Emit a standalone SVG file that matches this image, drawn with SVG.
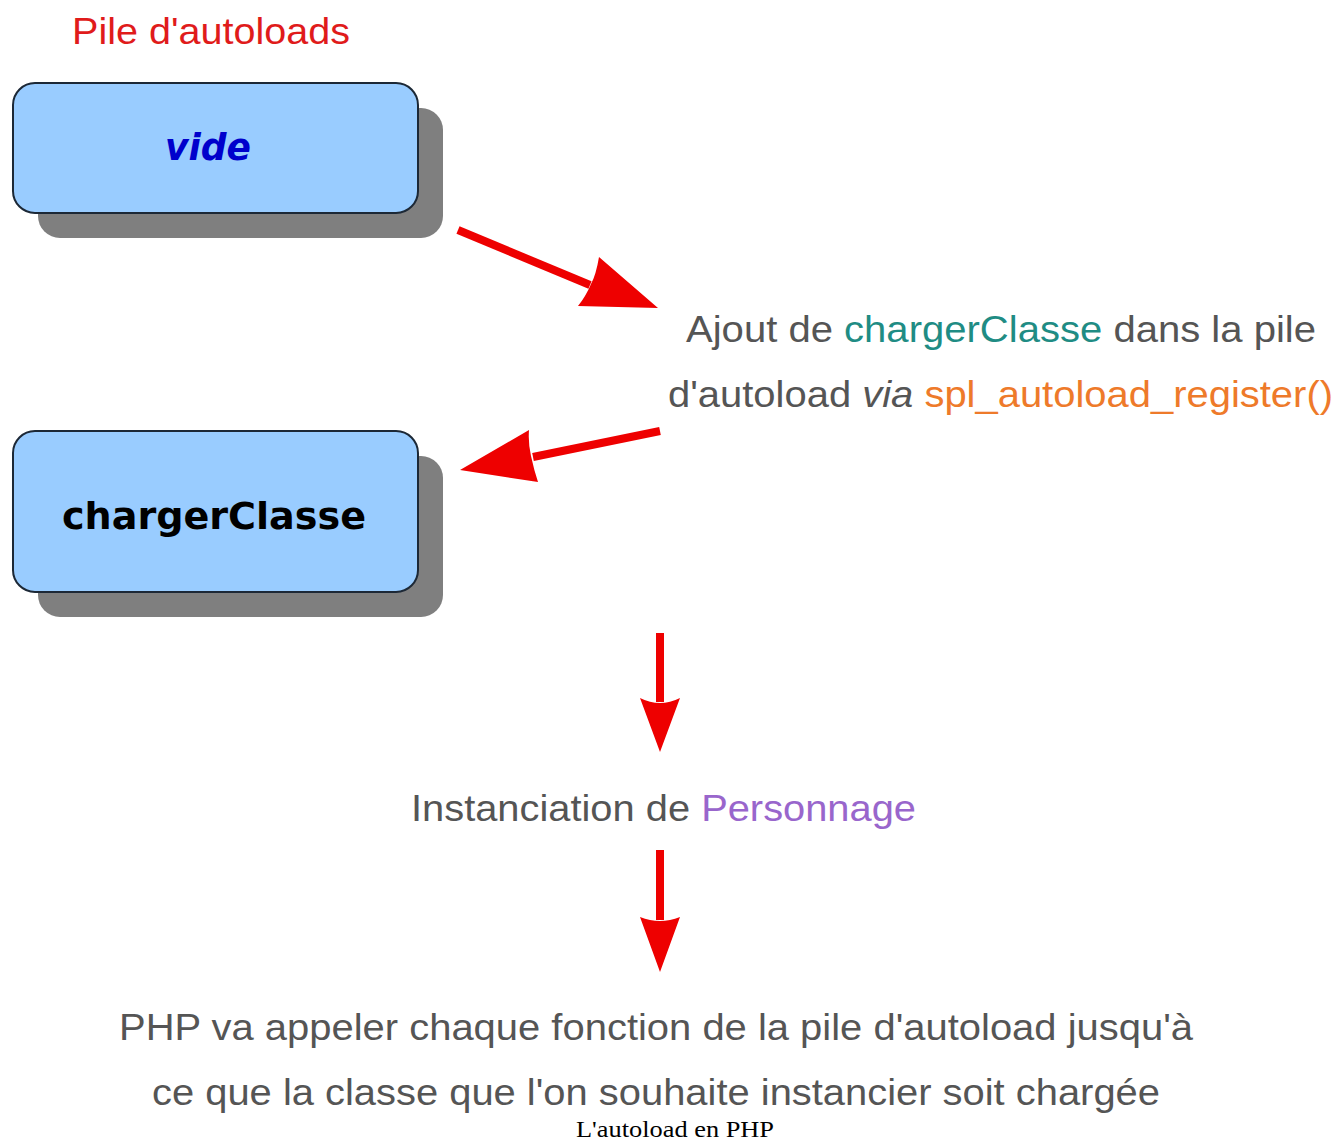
<svg xmlns="http://www.w3.org/2000/svg" width="1337" height="1144" viewBox="0 0 1337 1144">
<style>
.shadow{fill:#7f7f7f}
.box{fill:#99ccff;stroke:#1c2836;stroke-width:2}
.arrow{fill:#ee0000;stroke:none}
.line{stroke:#ee0000;stroke-width:8;fill:none}
.t{font-family:"Liberation Sans",Arial,sans-serif;font-size:36px;fill:#555555}
.node{font-family:"DejaVu Sans",sans-serif;font-weight:bold;font-size:38px;text-anchor:middle}
</style>
<rect width="1337" height="1144" fill="#ffffff"/>
<text x="72" y="44" textLength="278" lengthAdjust="spacingAndGlyphs" style="font-family:'Liberation Sans',Arial,sans-serif;font-size:37px;fill:#e01b1b">Pile d'autoloads</text>
<g id="node-vide">
<rect class="shadow" x="38" y="108" width="405" height="130" rx="22"/>
<rect class="box" x="13" y="83" width="405" height="130" rx="22"/>
<text class="node" x="208" y="160" font-style="italic" fill="#0000cc" textLength="86" lengthAdjust="spacingAndGlyphs">vide</text>
</g>
<g id="node-chargerClasse">
<rect class="shadow" x="38" y="456" width="405" height="161" rx="22"/>
<rect class="box" x="13" y="431" width="405" height="161" rx="22"/>
<text class="node" x="214" y="529" fill="#000000" textLength="304" lengthAdjust="spacingAndGlyphs">chargerClasse</text>
</g>
<g id="connectors">
<line class="line" x1="458" y1="230" x2="590" y2="285"/>
<path class="arrow" d="M658,308 L599,257 Q596,275 591,284 Q586,296 578,306 Z"/>
<line class="line" x1="660" y1="431" x2="533" y2="457"/>
<path class="arrow" d="M460,470 L529,430 Q528,443 531,456 Q534,470 538,482 Z"/>
<line class="line" x1="660" y1="633" x2="660" y2="702"/>
<path class="arrow" d="M660,752 L640,698 Q650,703 660,703 Q670,703 680,698 Z"/>
<line class="line" x1="660" y1="850" x2="660" y2="920"/>
<path class="arrow" d="M660,972 L640,917 Q650,921 660,921 Q670,921 680,917 Z"/>
</g>
<g id="label-ajout">
<text class="t" x="686" y="342" textLength="630" lengthAdjust="spacingAndGlyphs">Ajout de <tspan fill="#1f8c84">chargerClasse</tspan> dans la pile</text>
<text class="t" x="668" y="407" textLength="665" lengthAdjust="spacingAndGlyphs">d'autoload <tspan font-style="italic">via</tspan> <tspan fill="#ee7a2a">spl_autoload_register()</tspan></text>
</g>
<g id="label-instanciation">
<text class="t" x="411" y="821" textLength="505" lengthAdjust="spacingAndGlyphs">Instanciation de <tspan fill="#9966cc">Personnage</tspan></text>
</g>
<g id="label-php">
<text class="t" x="119" y="1040" textLength="1074" lengthAdjust="spacingAndGlyphs">PHP va appeler chaque fonction de la pile d'autoload jusqu'à</text>
<text class="t" x="152" y="1105" textLength="1008" lengthAdjust="spacingAndGlyphs">ce que la classe que l'on souhaite instancier soit chargée</text>
</g>
<text x="576" y="1137" textLength="198" lengthAdjust="spacingAndGlyphs" style="font-family:'Liberation Serif','Times New Roman',serif;font-size:24px;fill:#000">L'autoload en PHP</text>
</svg>
